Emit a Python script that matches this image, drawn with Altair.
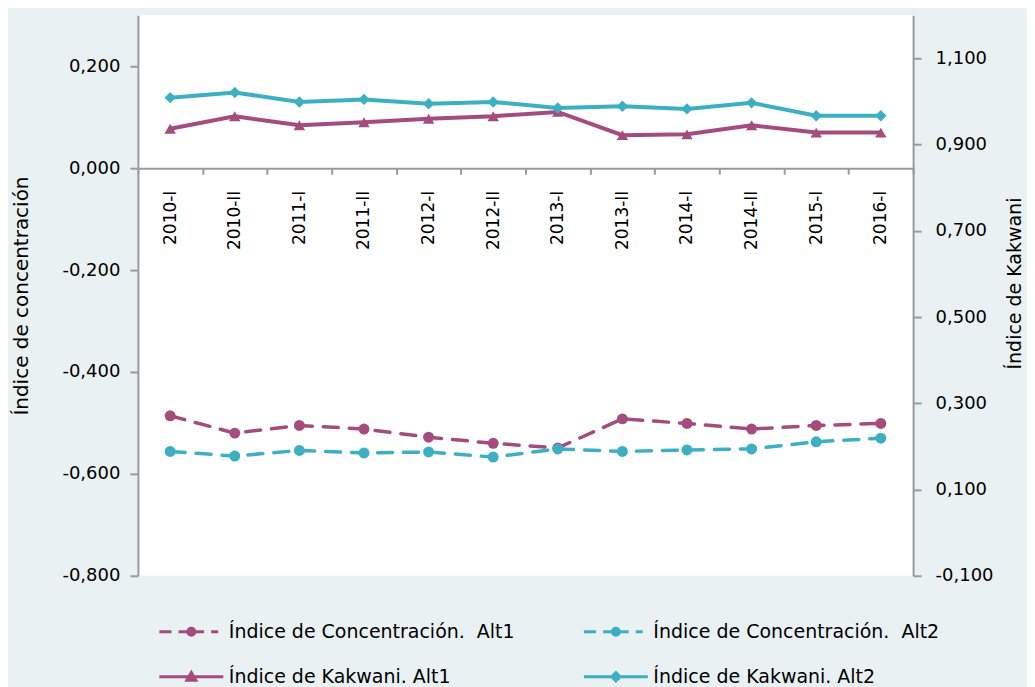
import altair as alt
import pandas as pd

periods = ["2010-I", "2010-II", "2011-I", "2011-II", "2012-I", "2012-II",
           "2013-I", "2013-II", "2014-I", "2014-II", "2015-I", "2016-I"]

conc_alt1 = [-0.486, -0.520, -0.505, -0.512, -0.528, -0.540,
             -0.549, -0.492, -0.501, -0.512, -0.505, -0.501]
conc_alt2 = [-0.556, -0.565, -0.554, -0.559, -0.557, -0.567,
             -0.551, -0.556, -0.553, -0.551, -0.537, -0.530]
kak_alt1 = [0.937, 0.966, 0.945, 0.952, 0.960, 0.966,
            0.976, 0.922, 0.924, 0.945, 0.928, 0.928]
kak_alt2 = [1.009, 1.021, 0.999, 1.005, 0.995, 0.999,
            0.985, 0.989, 0.983, 0.997, 0.967, 0.967]

S_C1 = "Índice de Concentración.\u00a0 Alt1"
S_C2 = "Índice de Concentración.\u00a0 Alt2"
S_K1 = "Índice de Kakwani. Alt1"
S_K2 = "Índice de Kakwani. Alt2"
series_names = [S_C1, S_C2, S_K1, S_K2]

PURPLE = "#a44c7d"
TEAL = "#3cb0c2"
colors = [PURPLE, TEAL, PURPLE, TEAL]

left_ticks = [-0.8, -0.6, -0.4, -0.2, 0.0, 0.2]
right_ticks = [-0.1, 0.1, 0.3, 0.5, 0.7, 0.9, 1.1]

# legend symbol paths (line + marker drawn as nested outlines so they look filled)
circle = ("M-0.11,0A0.11,0.11 0 1 0 0.11,0A0.11,0.11 0 1 0 -0.11,0Z"
          "M-0.04,0A0.04,0.04 0 1 0 0.04,0A0.04,0.04 0 1 0 -0.04,0Z")
tri = "M-0.14,0.11L0,-0.13L0.14,0.11ZM-0.05,0.06L0,-0.03L0.05,0.06Z"
dia = "M0,-0.13L0.13,0L0,0.13L-0.13,0ZM0,-0.05L0.05,0L0,0.05L-0.05,0Z"
dashed = "M-1,0H-0.62M-0.4,0H0.4M0.62,0H0.84"
solid = "M-1,0H1"
legend_paths = [dashed + circle, dashed + circle, solid + tri, solid + dia]

rows = []
for name, grp, vals in [(S_C1, "conc", conc_alt1), (S_C2, "conc", conc_alt2),
                        (S_K1, "kak", kak_alt1), (S_K2, "kak", kak_alt2)]:
    for p, v in zip(periods, vals):
        rows.append({"period": p, "series": name, "group": grp, "value": v})
df = pd.DataFrame(rows)
conc_df = df[df.group == "conc"]
kak_df = df[df.group == "kak"]
k1_df = df[df.series == S_K1]
k2_df = df[df.series == S_K2]

FONT = "DejaVu Sans"
fmt = "replace(replace(format(datum.value,'.3f'),'.',','),'\u2212','-')"

x_enc = alt.X(
    "period:N", sort=periods,
    scale=alt.Scale(type="band", domain=periods, paddingInner=0, paddingOuter=0),
    axis=alt.Axis(orient="bottom", offset=-408, labelAngle=270, tickBand="extent",
                  domainColor="#9a9a9a", domainWidth=2, tickColor="#9a9a9a",
                  tickWidth=2, tickSize=6, labelPadding=16, labelFontSize=17,
                  labelFont=FONT, labelColor="black", title=None, grid=False),
)

yl = alt.Y(
    "value:Q",
    scale=alt.Scale(domain=[-0.8, 0.3], nice=False, zero=False),
    axis=alt.Axis(orient="left", values=left_ticks, labelExpr=fmt, grid=False,
                  domainColor="#9a9a9a", domainWidth=2, tickColor="#9a9a9a",
                  tickWidth=2, tickSize=8, labelPadding=10, labelFontSize=18,
                  labelFont=FONT, labelColor="black",
                  title="Índice de concentración", titleFont=FONT,
                  titleFontSize=20, titleFontWeight="normal", titleColor="black",
                  titlePadding=30),
)
yr = alt.Y(
    "value:Q",
    scale=alt.Scale(domain=[-0.1, 1.2], nice=False, zero=False),
    axis=alt.Axis(orient="right", values=right_ticks, labelExpr=fmt, grid=False,
                  domainColor="#9a9a9a", domainWidth=2, tickColor="#9a9a9a",
                  tickWidth=2, tickSize=8, labelPadding=14, labelFontSize=18,
                  labelFont=FONT, labelColor="black",
                  title="Índice de Kakwani", titleFont=FONT, titleAngle=270,
                  titleFontSize=19, titleFontWeight="normal", titleColor="black",
                  titlePadding=31, titleY=268),
)

cscale = alt.Scale(domain=series_names, range=colors)

leg = alt.Legend(orient="none", legendX=20, legendY=605, columns=2,
                 direction="horizontal",
                 columnPadding=67, rowPadding=21, symbolSize=4096,
                 symbolStrokeWidth=3, clipHeight=24, labelFontSize=19,
                 labelFont=FONT, labelColor="black", labelLimit=0,
                 labelOffset=4, title=None)

legend_layer = alt.Chart(conc_df).mark_point(
    filled=True, opacity=0, size=4096, strokeWidth=3
).encode(
    x=x_enc, y=yl,
    fill=alt.Fill("series:N", scale=cscale, legend=leg),
    stroke=alt.Stroke("series:N", scale=cscale, legend=leg),
    shape=alt.Shape("series:N", scale=alt.Scale(domain=series_names, range=legend_paths),
                    legend=leg),
)

conc_line = alt.Chart(conc_df).mark_line(
    strokeWidth=3.5, strokeDash=[15, 11], strokeCap="round"
).encode(x=x_enc, y=yl, stroke=alt.Stroke("series:N", scale=cscale, legend=None))

conc_pts = alt.Chart(conc_df).mark_point(
    filled=True, shape="circle", size=120, opacity=1
).encode(x=x_enc, y=yl, fill=alt.Fill("series:N", scale=cscale, legend=None))

kak_line = alt.Chart(kak_df).mark_line(strokeWidth=4).encode(
    x=x_enc, y=yr, stroke=alt.Stroke("series:N", scale=cscale, legend=None))

kak_tri = alt.Chart(k1_df).mark_point(
    filled=True, shape="triangle-up", size=130, opacity=1
).encode(x=x_enc, y=yr, fill=alt.Fill("series:N", scale=cscale, legend=None))

kak_dia = alt.Chart(k2_df).mark_point(
    filled=True, shape="diamond", size=130, opacity=1
).encode(x=x_enc, y=yr, fill=alt.Fill("series:N", scale=cscale, legend=None))

left_layer = alt.layer(legend_layer, conc_line, conc_pts)
right_layer = alt.layer(kak_line, kak_tri, kak_dia)

chart = alt.layer(left_layer, right_layer).resolve_scale(y="independent").properties(
    width=776, height=561, autosize="none",
    padding={"left": 130, "top": 7, "right": 114, "bottom": 112},
    background="#e9f1f2",
).configure_view(fill="white", stroke=None)

chart.save("out.html", embed_options={"renderer": "svg", "actions": False})
